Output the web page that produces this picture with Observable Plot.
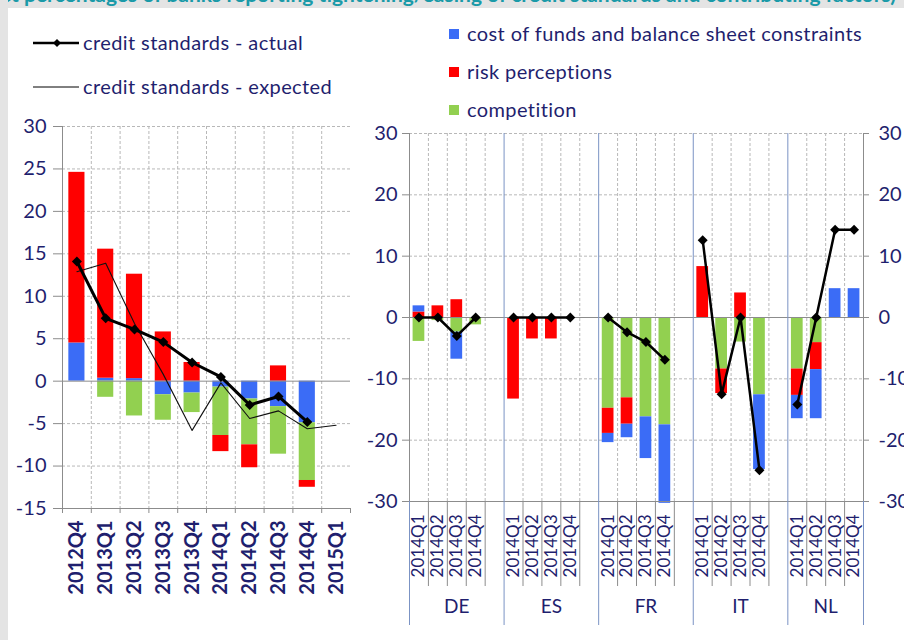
<!DOCTYPE html>
<html><head><meta charset="utf-8">
<script src="https://cdn.jsdelivr.net/npm/d3@7"></script>
<script src="https://cdn.jsdelivr.net/npm/@observablehq/plot@0.6"></script>
<style>
html,body{margin:0;padding:0;background:#fff;}
#root{position:relative;width:904px;height:640px;overflow:hidden;background:#fff;font-family:Lato,"Open Sans",sans-serif;color:#1f1f6e;}
#leftstrip{position:absolute;left:0;top:0;width:8px;height:640px;background:#e4e4e4;}
#topstrip{position:absolute;left:0;top:0;width:904px;height:8px;background:#e4e4e4;overflow:hidden;}
#title{position:absolute;right:8px;top:-19px;line-height:20px;white-space:nowrap;font:bold 21px Lato,sans-serif;color:#1a9aa8;}
.chart{position:absolute;top:0;}
.leg{position:absolute;font-size:20px;letter-spacing:0.4px;white-space:nowrap;line-height:23px;color:#1f1f6e;}
.sw{position:absolute;width:10px;height:10px;}
</style></head>
<body>
<div id="root">
  <div id="topstrip"><div id="title">(net percentages of banks reporting tightening/easing of credit standards and contributing factors)</div></div>
  <div id="leftstrip"></div>
  <div id="leftChart" class="chart" style="left:0"></div>
  <div id="rightChart" class="chart" style="left:360px"></div>
  <svg style="position:absolute;left:33px;top:33px" width="46" height="20"><line x1="0" y1="10" x2="46" y2="10" stroke="#000" stroke-width="2.5"/><path d="M24,6 L28,10 L24,14 L20,10 Z" fill="#000"/></svg>
  <div class="leg" style="left:83px;top:31px">credit standards - actual</div>
  <svg style="position:absolute;left:33px;top:77px" width="46" height="20"><line x1="0" y1="10" x2="46" y2="10" stroke="#000" stroke-width="1"/></svg>
  <div class="leg" style="left:83px;top:75px">credit standards - expected</div>
  <div class="sw" style="left:449px;top:29px;background:#3b6cf6"></div>
  <div class="leg" style="left:467px;top:22px">cost of funds and balance sheet constraints</div>
  <div class="sw" style="left:449px;top:67px;background:#ff0000"></div>
  <div class="leg" style="left:467px;top:60px">risk perceptions</div>
  <div class="sw" style="left:449px;top:105px;background:#92d050"></div>
  <div class="leg" style="left:467px;top:98px">competition</div>
</div>
<script>
// ---------- Euro area panel ----------
const quarters = ["2012Q4","2013Q1","2013Q2","2013Q3","2013Q4","2014Q1","2014Q2","2014Q3","2014Q4","2015Q1"];
const costEA = [4.5, 0.35, 0.3, -1.6, -1.4, -0.7, -2.1, -3.0, -4.9];
const riskEA = [20.1, 15.2, 12.3, 5.8, 2.2, -1.9, -2.7, 1.8, -0.8];
const compEA = [0, -1.9, -4.1, -3.0, -2.3, -5.7, -5.4, -5.6, -6.8];
const actualEA = [14.1, 7.4, 6.1, 4.6, 2.2, 0.5, -2.8, -1.8, -4.8];
const expectedEA = [12.9, 13.9, 6.8, 0.8, -5.8, -0.2, -4.4, -3.5, -5.6, -5.2];
const leftTicks = [-15, -10, -5, 0, 5, 10, 15, 20, 25, 30];

// ---------- Country panel ----------
const countries = ["DE","ES","FR","IT","NL"];
const countryQuarters = ["2014Q1","2014Q2","2014Q3","2014Q4"];
const costCty = [[1.0, 0, -4.4, 0], [0, 0, 0, 0], [-1.5, -2.2, -6.8, -12.8], [0, 0, 0, -12.2], [-3.8, -8.0, 4.7, 4.7]];
const riskCty = [[0.9, 1.9, 2.9, 0], [-13.3, -3.5, -3.5, 0], [-4.1, -4.3, 0, 0], [8.3, -4.0, 4.0, 0], [-4.3, -4.4, 0, 0]];
const compCty = [[-3.9, -0.5, -2.4, -1.2], [0, 0, 0, 0], [-14.8, -13.1, -16.2, -17.5], [0, -8.4, -4.0, -12.6], [-8.4, -4.1, 0, 0]];
const actualCty = [[0, 0, -3.0, 0], [0, 0, 0, 0], [0, -2.4, -4.0, -6.9], [12.6, -12.5, 0, -24.9], [-14.2, 0, 14.3, 14.3]];
const rightTicks = [-30, -20, -10, 0, 10, 20, 30];

const seriesKeys = ["cost", "risk", "comp"];
const seriesColors = ["#3b6cf6", "#ff0000", "#92d050"];
const navy = "#1f1f6e", axisGray = "#8c8c8c", gridGray = "#b8b8b8", sepBlue = "#7b93c4";
const hyphen = d => String(d);

function stackRows(n, series, order, pos) {
  const rows = [];
  for (let i = 0; i < n; i++) {
    let p = 0, m = 0;
    for (const s of order) {
      const v = series[s][i];
      if (v == null || v === 0) continue;
      if (v > 0) { rows.push({x: pos(i), s, y1: p, y2: p + v}); p += v; }
      else { rows.push({x: pos(i), s, y1: m, y2: m + v}); m += v; }
    }
  }
  return rows;
}

// left table
const leftBars = stackRows(costEA.length, {cost: costEA, risk: riskEA, comp: compEA}, ["cost","comp","risk"], i => i);
const leftActual = actualEA.map((v, i) => ({x: i + 0.5, v}));
const leftExpected = expectedEA.map((v, i) => ({x: i + 0.5, v}));

const left = Plot.plot({
  width: 360, height: 640,
  marginLeft: 62, marginRight: 10, marginTop: 126, marginBottom: 132,
  x: {type: "linear", domain: [0, quarters.length], label: null},
  y: {domain: [-15, 30], label: null},
  color: {domain: seriesKeys, range: seriesColors},
  style: {fontFamily: "Lato, sans-serif", color: navy, background: "transparent", overflow: "visible"},
  marks: [
    Plot.ruleY(leftTicks.filter(t => t !== 0 && t !== -15), {stroke: gridGray, strokeDasharray: "3,2"}),
    Plot.ruleX(d3.range(1, quarters.length), {stroke: gridGray, strokeDasharray: "3,2"}),
    Plot.rectY(leftBars, {x1: d => d.x + 0.22, x2: d => d.x + 0.78, y1: "y1", y2: "y2", fill: "s"}),
    Plot.ruleY([0], {stroke: axisGray}),
    Plot.ruleY([-15], {stroke: axisGray}),
    Plot.ruleX([0], {stroke: axisGray}),
    Plot.line(leftExpected, {x: "x", y: "v", stroke: "#111", strokeWidth: 1.1}),
    Plot.line(leftActual, {x: "x", y: "v", stroke: "#000", strokeWidth: 3}),
    Plot.dot(leftActual, {x: "x", y: "v", symbol: "diamond2", r: 4.5, fill: "#000"}),
    Plot.axisY({ticks: leftTicks, tickFormat: hyphen, tickSize: 9, tickPadding: 7, fontSize: 20, stroke: axisGray, fill: navy, label: null}),
    Plot.axisX({ticks: d3.range(0, quarters.length + 1), tickSize: 5, tickFormat: () => "", stroke: axisGray, label: null}),
    Plot.axisX({ticks: quarters.map((q, i) => i + 0.5), tickFormat: t => quarters[Math.floor(t)], tickSize: 0, tickPadding: 12, tickRotate: -90, fontSize: 20, fontWeight: "bold", fill: navy, label: null})
  ]
});
document.getElementById("leftChart").appendChild(left);

// right table
const slot = (c, q) => c * 5 + q;
const flat = arr => arr.flat();
const rightBars = stackRows(countries.length * 4,
  {cost: flat(costCty), risk: flat(riskCty), comp: flat(compCty)},
  ["comp","risk","cost"], i => slot(Math.floor(i / 4), i % 4));
const rightActual = [];
countries.forEach((c, ci) => countryQuarters.forEach((q, qi) => rightActual.push({c, x: slot(ci, qi) + 0.5, v: actualCty[ci][qi]})));
const nSlots = slot(countries.length - 1, 4);
const labelMap = new Map();
countries.forEach((c, ci) => countryQuarters.forEach((q, qi) => labelMap.set(slot(ci, qi) + 0.5, q)));
const groupEdges = [0, 5, 10, 15, 20, nSlots];
const shortEdges = d3.range(1, nSlots).filter(i => i % 5 !== 0);
const countryPos = countries.map((c, ci) => ci < countries.length - 1 ? ci * 5 + 2.5 : ci * 5 + 2);

const right = Plot.plot({
  width: 544, height: 640,
  marginLeft: 49, marginRight: 41, marginTop: 133, marginBottom: 139,
  x: {type: "linear", domain: [0, nSlots], label: null},
  y: {domain: [-30, 30], label: null},
  color: {domain: seriesKeys, range: seriesColors},
  style: {fontFamily: "Lato, sans-serif", color: navy, background: "transparent", overflow: "visible"},
  marks: [
    Plot.ruleY(rightTicks.filter(t => t !== 0 && t !== -30), {stroke: gridGray, strokeDasharray: "3,2"}),
    Plot.ruleX(shortEdges, {stroke: gridGray, strokeDasharray: "3,2"}),
    Plot.rectY(rightBars, {x1: d => d.x + 0.19, x2: d => d.x + 0.81, y1: "y1", y2: "y2", fill: "s"}),
    Plot.ruleY([0], {stroke: axisGray}),
    Plot.ruleY([-30], {stroke: axisGray}),
    Plot.ruleX([0, nSlots], {stroke: axisGray}),
    Plot.ruleX([5, 10, 15, 20], {stroke: sepBlue}),
    Plot.line(rightActual, {x: "x", y: "v", z: "c", stroke: "#000", strokeWidth: 2.5}),
    Plot.dot(rightActual, {x: "x", y: "v", symbol: "diamond2", r: 4.5, fill: "#000"}),
    Plot.axisY({ticks: rightTicks, tickFormat: hyphen, tickSize: 7, tickPadding: 5, fontSize: 20, stroke: axisGray, fill: navy, label: null}),
    Plot.axisY({anchor: "right", ticks: rightTicks, tickFormat: hyphen, tickSize: 5, tickPadding: 10, fontSize: 20, stroke: axisGray, fill: navy, label: null}),
    Plot.axisX({ticks: groupEdges, tickSize: 124, tickFormat: () => "", stroke: sepBlue, label: null}),
    Plot.axisX({ticks: shortEdges, tickSize: 85, tickFormat: () => "", stroke: axisGray, label: null}),
    Plot.axisX({ticks: [...labelMap.keys()], tickFormat: t => labelMap.get(t), tickSize: 0, tickPadding: 13, tickRotate: -90, fontSize: 17, fill: navy, label: null}),
    Plot.axisX({ticks: countryPos, tickFormat: t => countries[countryPos.indexOf(t)], tickSize: 0, tickPadding: 98, fontSize: 19, fill: navy, label: null})
  ]
});
document.getElementById("rightChart").appendChild(right);
</script>
</body></html>
